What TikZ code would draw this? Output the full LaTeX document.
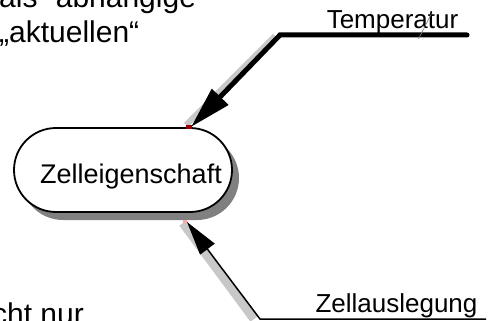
\documentclass[tikz,border=0pt]{standalone}
\usepackage{fontspec}
\setmainfont{Liberation Sans}
\usetikzlibrary{arrows.meta,shadows,calc}
\definecolor{shadowgray}{RGB}{128,128,128}
\definecolor{bandgray}{RGB}{200,200,200}
\definecolor{markred}{RGB}{150,0,0}
\begin{document}
\begin{tikzpicture}[x=1pt,y=-1pt,
  lbl/.style={font=\fontsize{26}{31}\selectfont, inner sep=0pt},
  bigtxt/.style={font=\fontsize{30}{35}\selectfont, inner sep=0pt},
  band/.style={bandgray},
  thickconn/.style={line width=5pt, line cap=round, -{Triangle[length=42pt,width=22pt]}},
  thinconn/.style={line width=1.5pt, -{Triangle[length=34pt,width=18pt]}}]
\useasboundingbox (0,0) rectangle (488,321);
% text blocks
\node[bigtxt, anchor=base west] (introa) at (-1,7.3) {als “abhängige};
\node[bigtxt, anchor=base west] (introb) at (-1,42.7) {„aktuellen“};
\node[bigtxt, anchor=base east] (rest) at (84,324) {cht nur};
% labels
\node[lbl, anchor=base] (temp) at (392.5,29) {Temperatur};
\node[lbl, anchor=base] (ausl) at (396.5,312) {Zellauslegung};
% coordinates
\coordinate (t1) at (467,35);
\coordinate (t2) at (280,35);
\coordinate (ttip) at (191,127);
\coordinate (b1) at (486,319);
\coordinate (b2) at (260,319);
\coordinate (btip) at (187,222);
% shadow bands
\draw[band, line width=6pt] ($(t2)+(-5,1)$) -- ($(ttip)+(-5,-2)$);
\draw[band, line width=9pt] ($(b2)+(-6,0)$) -- ($(btip)+(-4,1)$);
% cell
\node[draw, line width=1.8pt, rounded corners=42pt, minimum width=218pt, minimum height=84pt,
  inner sep=0pt, fill=white,
  drop shadow={shadow xshift=7pt, shadow yshift=-8pt, fill=shadowgray, opacity=1}] (cell) at (123,170) {};
\node[font=\fontsize{27}{32}\selectfont, inner sep=0pt, anchor=base] (celltext) at (131,183) {Zelleigenschaft};
% markers
\fill[markred] (186,125) rectangle (192,129);
\fill[red!35] (183,220) rectangle (187,223);
% connectors
\draw[thickconn] (t1) -- (t2) -- (ttip);
\draw[thinconn] (b1) -- (b2) -- (btip);
% slash over label
\draw[gray, line width=0.6pt] (431.5,13.5) -- (418.5,39);
\end{tikzpicture}
\end{document}
